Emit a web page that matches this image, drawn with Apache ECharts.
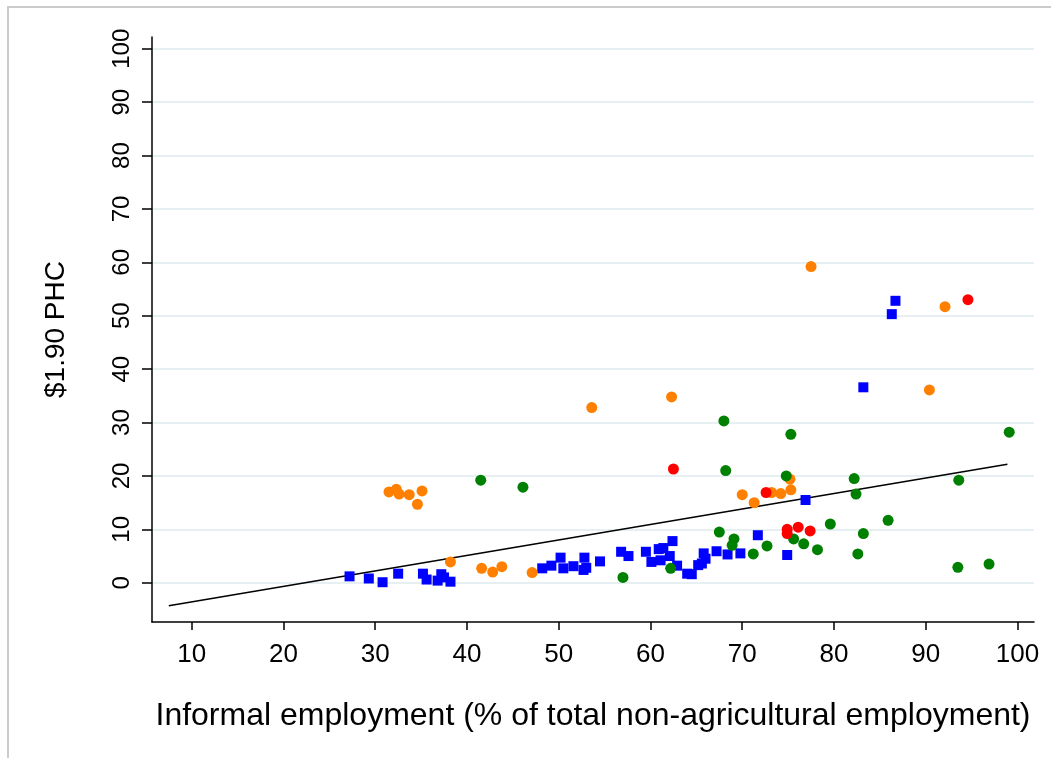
<!DOCTYPE html>
<html>
<head>
<meta charset="utf-8">
<script src="https://cdn.jsdelivr.net/npm/echarts@6/dist/echarts.min.js"></script>
<style>
html,body{margin:0;padding:0;background:#fff;}
#chart{position:absolute;left:0;top:0;width:1051px;height:758px;}
</style>
</head>
<body>
<div id="chart"></div>
<script>
// ---- data ----
const xTicks = [10, 20, 30, 40, 50, 60, 70, 80, 90, 100];
const yTicks = [0, 10, 20, 30, 40, 50, 60, 70, 80, 90, 100];

const bluePoints = [
  [27.2,1.2],[29.3,0.8],[30.8,0.1],[32.5,1.7],[35.2,1.7],[35.6,0.6],[36.8,0.4],
  [37.2,1.6],[37.5,1.0],[38.2,0.2],[48.2,2.7],[49.2,3.2],[50.2,4.7],[50.5,2.7],
  [51.6,3.1],[52.8,4.7],[52.7,2.4],[53.0,2.8],[54.5,4.0],[56.8,5.8],[57.6,5.0],
  [59.5,5.8],[60.1,3.9],[61.1,4.2],[60.9,6.3],[61.4,6.5],[62.4,7.8],[62.1,5.0],
  [62.9,3.2],[64.0,1.7],[64.5,1.6],[65.2,3.3],[65.8,5.5],[66.0,4.5],[65.6,3.6],
  [67.2,5.9],[68.4,5.3],[69.8,5.5],[71.7,8.9],[74.9,5.2],[76.9,15.5],[83.2,36.6],
  [86.3,50.3],[86.7,52.8]
];
const orangePoints = [
  [31.5,17.0],[32.3,17.5],[32.6,16.6],[33.7,16.5],[35.1,17.2],[34.6,14.7],
  [38.2,3.9],[41.6,2.7],[42.8,2.0],[43.8,3.0],[47.1,1.9],[53.6,32.8],[62.3,34.8],
  [70.0,16.5],[71.3,15.0],[73.2,16.9],[74.2,16.7],[75.3,17.4],[75.2,19.4],
  [77.5,59.2],[90.4,36.1],[92.1,51.7]
];
const greenPoints = [
  [41.5,19.2],[46.1,17.9],[57.0,1.0],[62.2,2.7],[67.5,9.5],[68.0,30.3],[68.2,21.0],
  [68.9,7.0],[69.1,8.2],[71.2,5.4],[72.7,6.9],[74.8,20.0],[75.3,27.8],[75.6,8.2],
  [76.7,7.3],[78.2,6.2],[79.6,11.0],[82.2,19.5],[82.4,16.6],[82.6,5.4],[83.2,9.2],
  [85.9,11.7],[93.5,2.9],[93.6,19.2],[96.9,3.5],[99.1,28.2]
];
const redPoints = [
  [62.5,21.3],[72.6,16.9],[74.9,10.0],[74.9,9.2],[76.1,10.4],[77.4,9.7],[94.6,53.0]
];
const fitLine = [[7.5,-4.3],[98.9,22.2]];

const xTitle = 'Informal employment (% of total non-agricultural employment)';
const yTitle = '$1.90 PHC';

const FONT = '"Liberation Sans", Arial, sans-serif';

const chart = echarts.init(document.getElementById('chart'), null, {renderer:'canvas'});

function scatter(name, data, color, symbol, size) {
  return {
    name, type:'scatter', data, symbol, symbolSize:size,
    itemStyle:{color, opacity:1}, z:10, animation:false
  };
}

chart.setOption({
  animation:false,
  backgroundColor:'#ffffff',
  graphic:[{
    type:'rect', silent:true, z:-10,
    shape:{x:8, y:7, width:1200, height:900},
    style:{fill:'none', stroke:'#cccccc', lineWidth:2}
  }],
  grid:{left:152, right:17, top:37, bottom:136, containLabel:false},
  xAxis:{
    type:'value', min:5.67, max:101.8,
    name:xTitle, nameLocation:'middle', nameGap:78,
    nameTextStyle:{fontFamily:FONT, fontSize:32, color:'#000'},
    axisLine:{show:true, onZero:false, lineStyle:{color:'#000', width:1.5}},
    axisTick:{show:true, customValues:xTicks, length:8, lineStyle:{color:'#000', width:1.5}},
    axisLabel:{show:true, customValues:xTicks, margin:20, fontFamily:FONT, fontSize:26, color:'#000'},
    splitLine:{show:false}
  },
  yAxis:{
    type:'value', min:-7.35, max:102.2,
    name:yTitle, nameLocation:'middle', nameGap:82, nameRotate:90,
    nameTextStyle:{fontFamily:FONT, fontSize:28, color:'#000'},
    axisLine:{show:true, onZero:false, lineStyle:{color:'#000', width:1.5}},
    axisTick:{show:true, customValues:yTicks, length:10, lineStyle:{color:'#000', width:1.5}},
    axisLabel:{show:true, customValues:yTicks, rotate:90, margin:18, fontFamily:FONT, fontSize:24, color:'#000'},
    splitLine:{show:false}
  },
  series:[
    {
      name:'grid', type:'line', data:[], silent:true, z:0, zlevel:0,
      markLine:{
        silent:true, symbol:['none','none'], label:{show:false}, z:0,
        lineStyle:{color:'#e6eff2', width:2, type:'solid'},
        data: yTicks.map(v => ({yAxis:v}))
      }
    },
    {
      name:'fit', type:'line', data:fitLine, symbol:'none', z:5,
      lineStyle:{color:'#000', width:1.6}
    },
    scatter('blue', bluePoints, '#0000ff', 'rect', 10),
    scatter('orange', orangePoints, '#ff8000', 'circle', 11),
    scatter('green', greenPoints, '#008000', 'circle', 11),
    scatter('red', redPoints, '#ff0000', 'circle', 11)
  ]
});
</script>
</body>
</html>
